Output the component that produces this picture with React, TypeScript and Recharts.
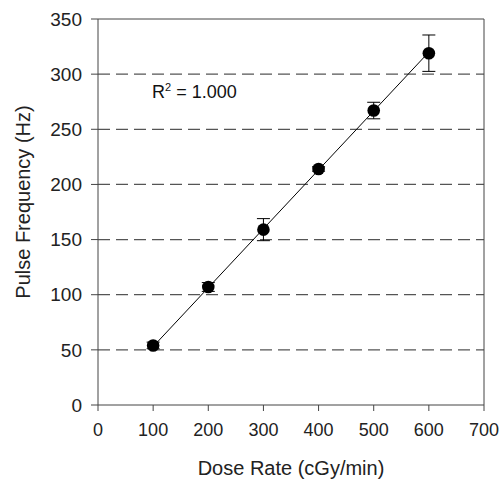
import React from "react";
import {
    ComposedChart,
    Scatter,
    ErrorBar,
    XAxis,
    YAxis,
    ReferenceLine,
    Label,
} from "recharts";

const doseRates = [100, 200, 300, 400, 500, 600];
const pulseFreq = [54, 107, 159, 214, 267, 319];
const freqErr = [3, 4, 10, 2, 7.5, 16.5];

const fitX = [100, 600];
const fitY = [53, 320];

const xTicks = [0, 100, 200, 300, 400, 500, 600, 700];
const yTicks = [0, 50, 100, 150, 200, 250, 300, 350];
const gridValues = [50, 100, 150, 200, 250, 300];

const points = doseRates.map((x, i) => ({ x, y: pulseFreq[i], err: freqErr[i] }));
const fitLine = fitX.map((x, i) => ({ x, y: fitY[i] }));

const font = "'Liberation Sans', Arial, sans-serif";
const axisColor = "#444";

// rotated y label, centred a little above the plot middle like the original
const YTitle = () => (
    <text
        x={23}
        y={202}
        transform="rotate(-90 23 202)"
        textAnchor="middle"
        dominantBaseline="central"
        fill="#222"
        fontSize={20}
        fontFamily={font}
    >
        Pulse Frequency (Hz)
    </text>
);

export default function App() {
    return (
        <div style={{ position: "absolute", left: 0, top: 0, width: 499, height: 480, background: "#fff", fontFamily: font }}>
            <ComposedChart width={499} height={480} margin={{ top: 19, right: 15, left: 0, bottom: 0 }}>
                <XAxis
                    type="number"
                    dataKey="x"
                    domain={[0, 700]}
                    ticks={xTicks}
                    interval={0}
                    height={75}
                    tickSize={6}
                    tickMargin={12}
                    stroke={axisColor}
                    tick={{ fill: "#222", fontSize: 18, fontFamily: font }}
                >
                    <Label value="Dose Rate (cGy/min)" position="insideBottom" offset={5} style={{ fill: "#222", fontSize: 20, fontFamily: font }} />
                </XAxis>
                <YAxis
                    type="number"
                    dataKey="y"
                    domain={[0, 350]}
                    ticks={yTicks}
                    interval={0}
                    width={98}
                    tickSize={7}
                    tickMargin={9}
                    stroke={axisColor}
                    tick={{ fill: "#222", fontSize: 19, fontFamily: font }}
                >
                    <Label content={<YTitle />} />
                </YAxis>
                {gridValues.map((v) => (
                    <ReferenceLine key={v} y={v} stroke="#555" strokeWidth={1.2} strokeDasharray="12 6" />
                ))}
                <ReferenceLine y={350} stroke={axisColor} />
                <ReferenceLine x={700} stroke={axisColor} />
                <Scatter
                    data={fitLine}
                    line={{ stroke: "#000", strokeWidth: 1 }}
                    shape={() => null}
                    isAnimationActive={false}
                />
                <Scatter data={points} fill="#000" isAnimationActive={false} shape={(p: any) => <circle cx={p.cx} cy={p.cy} r={6.3} fill="#000" />}>
                    <ErrorBar dataKey="err" direction="y" width={6.5} stroke="#000" strokeWidth={1} />
                </Scatter>
            </ComposedChart>
            <div style={{ position: "absolute", left: 152, top: 82, fontSize: 18, color: "#111", whiteSpace: "nowrap" }}>
                R<sup style={{ fontSize: 11, verticalAlign: "7px", lineHeight: 0 }}>2</sup>
                <span> = 1.000</span>
            </div>
        </div>
    );
}
